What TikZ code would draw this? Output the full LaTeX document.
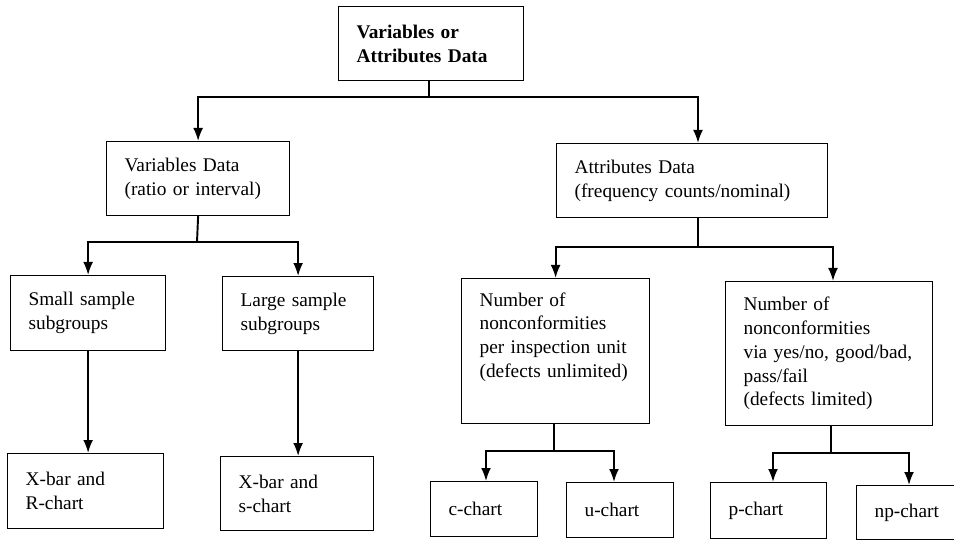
\documentclass[tikz,border=0pt]{standalone}
\usepackage{fontspec}
\setmainfont{Liberation Serif}
\usetikzlibrary{arrows.meta}

\begin{document}
\begin{tikzpicture}[
        blk/.style 2 args={draw, line width=0.7pt, anchor=north west, align=left,
            inner xsep=0.36cm, inner ysep=0pt, text width=#1cm, minimum height=#2cm,
            font=\fontsize{11}{13.5}\selectfont},
        wire/.style={line width=1.1pt},
        arr/.style={wire, -{Latex[length=2.6mm, width=2mm]}}
    ]
                \useasboundingbox (0, 0) rectangle (19.08, -10.8);
                % Boxes:
                \node[blk={2.98}{1.48}, font=\fontsize{11}{13.5}\selectfont\bfseries] (vad) at (6.76, -0.12) {Variables or\\Attributes Data};
                \node[blk={2.94}{1.48}] (var) at (2.12, -2.82) {Variables Data\\(ratio or interval)};
                \node[blk={4.70}{1.48}] (att) at (11.12, -2.86) {Attributes Data\\(frequency counts/nominal)};
                \node[blk={2.38}{1.50}] (small) at (0.20, -5.50) {Small sample\\subgroups};
                \node[blk={2.30}{1.48}] (large) at (4.44, -5.52) {Large sample\\subgroups};
                \node[blk={3.04}{2.90}, text depth=2.07cm] (perunit) at (9.22, -5.56) {Number of\\nonconformities\\per inspection unit\\(defects unlimited)};
                \node[blk={3.42}{2.88}] (yesno) at (14.50, -5.62) {Number of\\nonconformities\\via yes/no, good/bad,\\pass/fail\\(defects limited)};
                \node[blk={2.40}{1.50}] (xr) at (0.14, -9.06) {X-bar and\\R-chart};
                \node[blk={2.34}{1.48}] (xs) at (4.40, -9.12) {X-bar and\\s-chart};
                \node[blk={1.42}{1.10}] (cc) at (8.60, -9.62) {c-chart};
                \node[blk={1.42}{1.10}] (uc) at (11.32, -9.64) {u-chart};
                \node[blk={1.60}{1.12}] (pc) at (14.20, -9.64) {p-chart};
                \node[blk={2.60}{1.08}] (npc) at (17.12, -9.70) {np-chart};
                % Junctions and entry points:
                \coordinate (j1) at (8.58, -1.94);
                \coordinate (j2) at (3.94, -4.84);
                \coordinate (attout) at (13.96, -4.34);
                \coordinate (attin) at (13.96, -2.86);
                \coordinate (j3) at (13.96, -4.94);
                \coordinate (ynin) at (16.66, -5.62);
                \coordinate (puout) at (11.08, -8.46);
                \coordinate (j4) at (11.08, -9.02);
                \coordinate (cin) at (9.72, -9.62);
                \coordinate (uin) at (12.28, -9.64);
                \coordinate (ynout) at (16.62, -8.50);
                \coordinate (j5) at (16.62, -9.06);
                \coordinate (pin) at (15.46, -9.64);
                \coordinate (npin) at (18.18, -9.70);
                % Wires:
                \draw[wire] (vad.south -| j1) -- (j1);
                \draw[arr] (j1) -| (var.north);
                \draw[arr] (j1) -| (attin);
                \draw[wire] (var.south) -- (j2);
                \draw[arr] (j2) -| (small.north);
                \draw[arr] (j2) -| (large.north);
                \draw[wire] (attout) -- (j3);
                \draw[arr] (j3) -| (perunit.north);
                \draw[arr] (j3) -| (ynin);
                \draw[arr] (small.south) -- (small.south |- xr.north);
                \draw[arr] (large.south) -- (large.south |- xs.north);
                \draw[wire] (puout) -- (j4);
                \draw[arr] (j4) -| (cin);
                \draw[arr] (j4) -| (uin);
                \draw[wire] (ynout) -- (j5);
                \draw[arr] (j5) -| (pin);
                \draw[arr] (j5) -| (npin);
            \end{tikzpicture}
\end{document}
